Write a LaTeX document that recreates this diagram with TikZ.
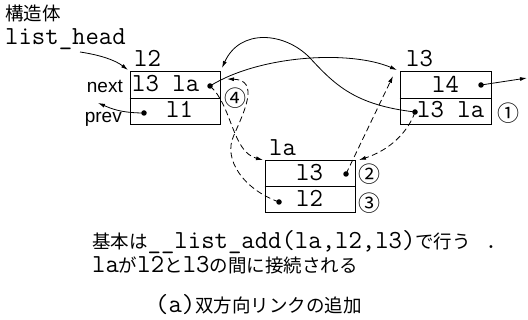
\documentclass[tikz,border=0pt]{standalone}
\usepackage{fontspec}
\setmainfont{Liberation Sans}
\newfontfamily\jpf{Noto Sans CJK JP}
\usetikzlibrary{arrows.meta}
\newcommand\mt{\ttfamily\fontsize{26}{27}\selectfont}
\newcommand\jt{\jpf\fontsize{18.5}{20}\selectfont}
\newcommand\ct{\jpf\fontsize{22}{22}\selectfont}
\newcommand\st{\fontsize{19}{20}\selectfont}
\begin{document}
\begin{tikzpicture}[x=1pt,y=-1pt,
  box/.style={draw,line width=1pt,minimum width=90pt,minimum height=53pt,inner sep=0pt},
  dot/.style={circle,fill,inner sep=0pt,minimum size=5.5pt},
  lbl/.style={anchor=base west,inner sep=0pt,font=\mt},
  txt/.style={anchor=base west,inner sep=0pt},
  num/.style={inner sep=0pt,font=\ct},
  link/.style={line width=0.8pt,-{Latex[length=7pt,width=4pt]}},
  dlink/.style={link,dash pattern=on 6pt off 3.5pt}]
\useasboundingbox (0,0) rectangle (528,320);

% boxes
\node[box] (l2box) at (175,98.5) {};
\node[box,minimum width=91pt] (l3box) at (445.5,98.5) {};
\node[box,minimum height=52pt] (labox) at (310,187) {};
\draw[line width=1pt] (l2box.west) -- (l2box.east);
\draw[line width=1pt] (l3box.west) -- (l3box.east);
\draw[line width=1pt] (labox.west) -- (labox.east);

% titles
\node[txt,font=\jt] (kozo) at (5,21) {構造体};
\node[lbl] (lhead) at (5,45) {list\_head};
\node[lbl] (t2) at (134,67) {l2};
\node[lbl] (t3) at (406,67) {l3};
\node[lbl] (ta) at (269,156) {la};
\node[anchor=base east,inner sep=0pt,font=\st] (nextl) at (123,93) {next};
\node[anchor=base east,inner sep=0pt,font=\st] (prevl) at (122,123) {prev};

% box contents
\node[lbl] (c2a) at (132,92) {l3 la};
\node[lbl] (c2b) at (166,118) {l1};
\node[lbl] (c3a) at (432,93) {l4};
\node[lbl] (c3b) at (417,118) {l3 la};
\node[lbl] (caa) at (296,181) {l3};
\node[lbl] (cab) at (296,207) {l2};

% dots
\node[dot] (d2n) at (210,86) {};
\node[dot] (d2p) at (144,113) {};
\node[dot] (d3n) at (481,85) {};
\node[dot] (d3p) at (415,112) {};
\node[dot] (dan) at (346,174) {};
\node[dot] (dap) at (279,202) {};

% circled numbers
\node[num] (n1) at (508,113) {①};
\node[num] (n2) at (369,174) {②};
\node[num] (n3) at (369,203) {③};
\node[num] (n4) at (235,98) {④};

% named ends
\coordinate (lhs) at (80,52);
\coordinate (l2in) at (128,70);
\coordinate (prevend) at (98,103);
\coordinate (l3in) at (397,70);
\coordinate (l2tr) at (222,68);
\coordinate (outend) at (527,78);
\coordinate (l3dash) at (393,76);
\coordinate (latr) at (359,160);
\coordinate (l2rt) at (227,79);
\coordinate (latl) at (263,160);

% solid links
\draw[link] (lhs) .. controls (100,55) and (115,60) .. (l2in);
\draw[link] (d2p.center) .. controls (120,113) and (110,108) .. (prevend);
\draw[link] (d2n.center) .. controls (260,55) and (350,50) .. (l3in);
\draw[link] (d3p.center) .. controls (355,105) and (335,85) .. (310,58)
   .. controls (285,32) and (240,28) .. (l2tr);
\draw[link] (d3n.center) -- (outend);

% dashed links
\draw[dlink] (dan.center) -- (l3dash);
\draw[dlink] (d3p.center) .. controls (408,132) and (390,150) .. (latr);
\draw[dlink] (dap.center) .. controls (245,190) and (222,160) .. (234,135)
   .. controls (244,112) and (260,80) .. (l2rt);
\draw[dlink] (d2n.center) .. controls (232,105) and (232,152) .. (latl);

% bottom texts
\node[txt] (line1) at (92,249) {{\jt 基本は}{\mt\_\_list\_add(la,l2,l3)}{\jt で行う}{\mt\ .}};
\node[txt] (line2) at (92,273) {{\mt la}{\jt が}{\mt l2}{\jt と}{\mt l3}{\jt の間に接続される}};
\node[txt] (caption) at (155,313) {{\mt(a)}{\jt 双方向リンクの追加}};
\end{tikzpicture}
\end{document}
